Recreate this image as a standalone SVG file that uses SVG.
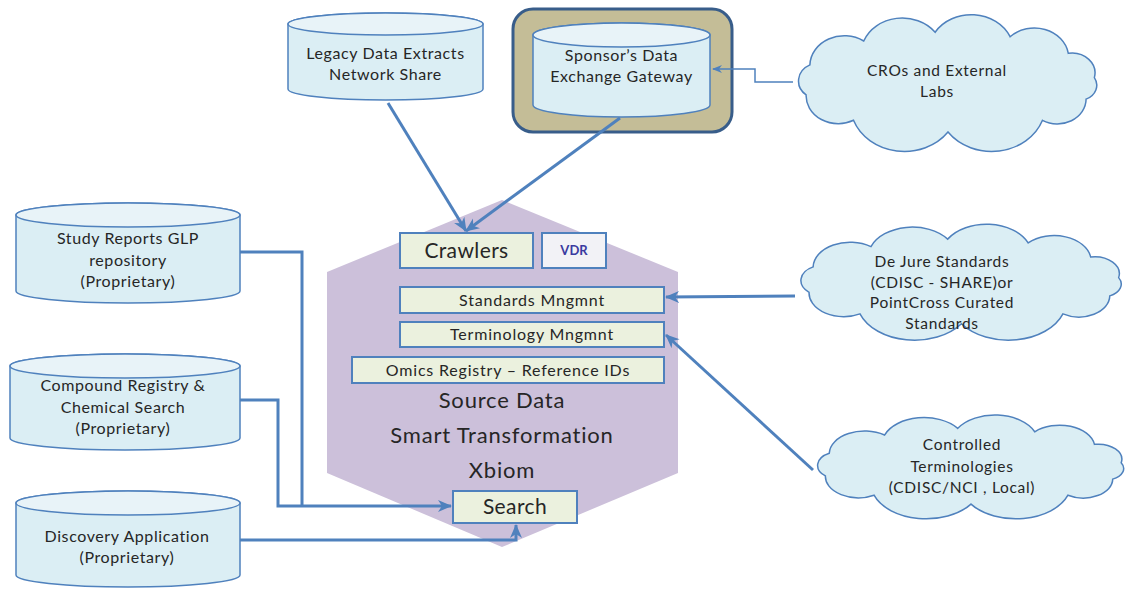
<svg xmlns="http://www.w3.org/2000/svg" xmlns:xlink="http://www.w3.org/1999/xlink" width="1133" height="590" viewBox="0 0 1133 590">
<style>
.t{font-family:Lato,"Open Sans","Liberation Sans",sans-serif;fill:#262626;text-anchor:middle}
.sb{font-size:16px;letter-spacing:0.8px}
.sc{font-size:16px;letter-spacing:0.6px}
.sk{font-size:15.5px;letter-spacing:0.7px}
.sl{font-size:21px;letter-spacing:0.4px}
.sh{font-size:22px;letter-spacing:0.8px}
.cyl{fill:#dbeef4;stroke:#4f81bd;stroke-width:1.5}
.cyltop{fill:#e8f3f8;stroke:#4f81bd;stroke-width:1.5}
.box{fill:#ebf1de;stroke:#4f81bd;stroke-width:2}
.cloud{fill:#dbeef4;stroke:#4f81bd;stroke-width:1.5}
.con{fill:none;stroke:#4f81bd;stroke-width:3}
.thin{fill:none;stroke:#4f81bd;stroke-width:1.5}
</style>
<defs>
<marker id="ah" markerUnits="userSpaceOnUse" markerWidth="16" markerHeight="14" refX="13" refY="6" orient="auto">
<path d="M0,0 L14,6 L0,12 L4,6 Z" fill="#4f81bd"/>
</marker>
<marker id="ahs" markerUnits="userSpaceOnUse" markerWidth="12" markerHeight="10" refX="9" refY="4" orient="auto">
<path d="M0,0 L10,4 L0,8 L3,4 Z" fill="#4f81bd"/>
</marker>
<path id="cloud" vector-effect="non-scaling-stroke" d="M29.7,54.9 A30,30 0 0 1 76.6,31 A36,36 0 0 1 138.8,22.2 A37,37 0 0 1 204.1,26.7 A30,30 0 0 1 254.8,43.3 A20,20 0 0 1 277.5,67.6 A15,15 0 0 1 270.3,89.1 A25,25 0 0 1 232.3,110.3 A47,47 0 0 1 150,122 A47,47 0 0 1 67.7,110.3 A28,28 0 0 1 26.4,84.9 A18,18 0 0 1 29.7,54.9 Z"/>
</defs>
<rect width="1133" height="590" fill="#ffffff"/>

<g id="hub">
<polygon points="502,200 678,272 678,473 502,547 327,473 327,272" fill="#ccc0da"/>
<text class="t sh" x="502" y="408">Source Data</text>
<text class="t sh" x="502" y="443">Smart Transformation</text>
<text class="t sh" x="502" y="478">Xbiom</text>
</g>
<g id="crawlers">
<rect class="box" x="400" y="233" width="133" height="35"/>
<text class="t sl" x="466.5" y="258">Crawlers</text>
</g>
<g id="vdr">
<rect x="542" y="233" width="64" height="35" fill="#f2f2f6" stroke="#4f81bd" stroke-width="2"/>
<text class="t" x="574" y="255" style="font-size:13px;font-weight:bold;fill:#3a3aa0">VDR</text>
</g>
<g id="standards">
<rect class="box" x="400" y="287" width="264" height="26"/>
<text class="t sb" x="532" y="306">Standards Mngmnt</text>
</g>
<g id="terminology">
<rect class="box" x="400" y="322" width="264" height="25"/>
<text class="t sb" x="532" y="340">Terminology Mngmnt</text>
</g>
<g id="omics">
<rect class="box" x="352" y="357" width="312" height="26"/>
<text class="t sb" x="508" y="376">Omics Registry – Reference IDs</text>
</g>
<g id="search">
<rect class="box" x="453" y="491" width="124" height="32"/>
<text class="t sl" x="515" y="514">Search</text>
</g>

<g id="legacy">
<path class="cyl" d="M288,24 L288,89 A97.5,11 0 0 0 483,89 L483,24 A97.5,11 0 0 0 288,24 Z"/>
<ellipse class="cyltop" cx="385.5" cy="24" rx="97.5" ry="11"/>
<text class="t sc" x="385.5" y="59">Legacy Data Extracts</text>
<text class="t sc" x="385.5" y="80">Network Share</text>
</g>
<g id="gateway">
<rect x="513" y="9" width="219" height="123" rx="20" ry="20" fill="#c4bd97" stroke="#385d8a" stroke-width="3"/>
<path class="cyl" d="M533,35 L533,105 A88.5,12 0 0 0 710,105 L710,35 A88.5,12 0 0 0 533,35 Z"/>
<ellipse class="cyltop" cx="621.5" cy="35" rx="88.5" ry="12"/>
<text class="t sc" x="621.5" y="61">Sponsor’s Data</text>
<text class="t sc" x="621.5" y="82">Exchange Gateway</text>
</g>
<g id="study">
<path class="cyl" d="M16,215 L16,291 A112,12 0 0 0 240,291 L240,215 A112,12 0 0 0 16,215 Z"/>
<ellipse class="cyltop" cx="128" cy="215" rx="112" ry="12"/>
<text class="t sc" x="128" y="244">Study Reports GLP</text>
<text class="t sc" x="128" y="266">repository</text>
<text class="t sc" x="128" y="287">(Proprietary)</text>
</g>
<g id="compound">
<path class="cyl" d="M10,366 L10,438 A115,12 0 0 0 240,438 L240,366 A115,12 0 0 0 10,366 Z"/>
<ellipse class="cyltop" cx="125" cy="366" rx="115" ry="12"/>
<text class="t sc" x="123" y="391">Compound Registry &amp;</text>
<text class="t sc" x="123" y="413">Chemical Search</text>
<text class="t sc" x="123" y="434">(Proprietary)</text>
</g>
<g id="discovery">
<path class="cyl" d="M16,503 L16,575 A112,12 0 0 0 240,575 L240,503 A112,12 0 0 0 16,503 Z"/>
<ellipse class="cyltop" cx="128" cy="503" rx="112" ry="12"/>
<text class="t sc" x="127" y="542">Discovery Application</text>
<text class="t sc" x="127" y="563">(Proprietary)</text>
</g>

<g id="cros">
<use xlink:href="#cloud" href="#cloud" class="cloud" transform="translate(775.8,10) scale(1.148,1)"/>
<text class="t sk" x="937" y="76">CROs and External</text>
<text class="t sk" x="937" y="97">Labs</text>
</g>
<g id="dejure">
<use xlink:href="#cloud" href="#cloud" class="cloud" transform="translate(776.5,220.3) scale(1.233,0.848)"/>
<text class="t sk" x="942" y="267">De Jure Standards</text>
<text class="t sk" x="942" y="288">(CDISC - SHARE)or</text>
<text class="t sk" x="942" y="308">PointCross Curated</text>
<text class="t sk" x="942" y="329">Standards</text>
</g>
<g id="controlled">
<use xlink:href="#cloud" href="#cloud" class="cloud" transform="translate(794.3,411.5) scale(1.178,0.759)"/>
<text class="t sk" x="962" y="450">Controlled</text>
<text class="t sk" x="962" y="472">Terminologies</text>
<text class="t sk" x="962" y="493">(CDISC/NCI , Local)</text>
</g>

<g id="connectors">
<path class="con" d="M388,103 L466,231" marker-end="url(#ah)"/>
<path class="con" d="M620,118 L466,231" marker-end="url(#ah)"/>
<path class="thin" d="M793,82 L755,82 L755,69 L713,69" marker-end="url(#ahs)"/>
<path class="con" d="M795,296 L666,297" marker-end="url(#ah)"/>
<path class="con" d="M813,470 L666,335" marker-end="url(#ah)"/>
<path class="con" d="M240,252 L302,252 L302,506"/>
<path class="con" d="M240,400 L278,400 L278,506 L451,506" marker-end="url(#ah)"/>
<path class="con" d="M240,540 L516,540 L516,525" marker-end="url(#ah)"/>
</g>
</svg>
